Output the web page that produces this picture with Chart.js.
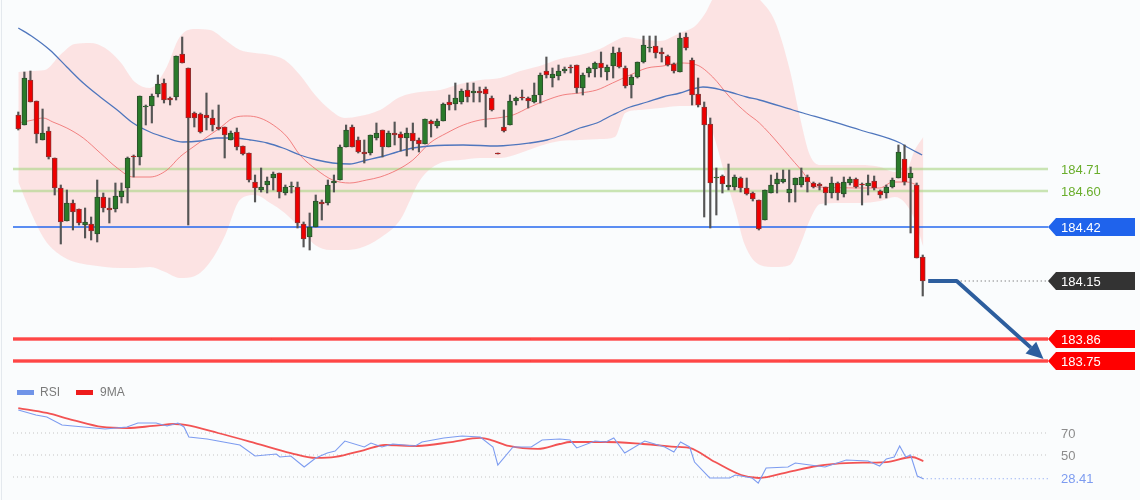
<!DOCTYPE html>
<html>
<head>
<meta charset="utf-8">
<script src="https://cdn.jsdelivr.net/npm/chart.js@4.4.0/dist/chart.umd.min.js"></script>
<style>
  html, body { margin: 0; padding: 0; background: #fafcfd; }
  #wrap { position: relative; width: 1140px; height: 500px; }
</style>
</head>
<body>
<div id="wrap"><canvas id="chart" width="1140" height="500"></canvas></div>
<script>
// candles, index 1..150
var candleOpen = [
  184.98,184.93,185.155,185.05,184.855,184.9,184.765,184.615,184.45,184.54,
  184.51,184.43,184.435,184.385,184.57,184.515,184.51,184.57,184.615,184.775,
  184.77,185.02,185.025,185.085,185.14,185.065,185.07,185.285,185.215,184.99,
  184.985,184.98,184.965,184.92,184.92,184.855,184.895,184.825,184.79,184.645,
  184.605,184.63,184.665,184.69,184.59,184.62,184.62,184.435,184.37,184.42,
  184.545,184.54,184.64,184.655,184.82,184.92,184.855,184.795,184.79,184.865,
  184.905,184.82,184.89,184.885,184.865,184.89,184.855,184.835,184.95,184.925,
  184.95,185.045,185.035,185.045,185.105,185.09,185.1,185.11,185.065,184.79,
  184.92,184.93,185.05,185.07,185.065,185.045,185.08,185.2,185.165,185.175,
  185.2,185.22,185.23,185.115,185.19,185.21,185.24,185.195,185.225,185.295,
  185.215,185.13,185.17,185.245,185.315,185.325,185.295,185.275,185.235,185.195,
  185.37,185.255,185.085,185.02,184.935,184.665,184.675,184.62,184.62,184.665,
  184.615,184.59,184.555,184.455,184.59,184.635,184.645,184.59,184.63,184.63,
  184.67,184.64,184.635,184.62,184.59,184.64,184.585,184.64,184.66,184.635,
  184.625,184.65,184.6,184.59,184.62,184.665,184.76,184.665,184.63,184.27
];
var candleHigh = [
  184.995,185.195,185.2,185.05,185.01,184.92,184.765,184.63,184.605,184.555,
  184.51,184.515,184.47,184.655,184.59,184.565,184.64,184.64,184.77,184.78,
  185.075,185.03,185.085,185.18,185.16,185.07,185.275,185.37,185.215,184.995,
  184.99,185.09,185.005,185.03,184.92,184.9,184.915,184.825,184.79,184.68,
  184.715,184.67,184.695,184.69,184.63,184.645,184.645,184.445,184.49,184.58,
  184.555,184.655,184.68,184.83,184.93,184.93,184.87,184.855,184.88,184.94,
  184.905,184.9,184.945,184.895,184.915,184.94,184.865,184.96,184.955,184.96,
  185.04,185.08,185.14,185.11,185.14,185.14,185.12,185.12,185.075,184.79,
  185.005,185.08,185.07,185.105,185.07,185.14,185.19,185.27,185.215,185.23,
  185.22,185.23,185.23,185.19,185.22,185.245,185.295,185.23,185.32,185.315,
  185.225,185.18,185.245,185.375,185.375,185.375,185.315,185.28,185.24,185.39,
  185.39,185.265,185.165,185.045,184.965,184.715,184.68,184.735,184.68,184.67,
  184.665,184.595,184.555,184.605,184.68,184.69,184.705,184.705,184.665,184.715,
  184.68,184.645,184.64,184.62,184.67,184.645,184.67,184.67,184.665,184.64,
  184.68,184.675,184.605,184.63,184.665,184.83,184.83,184.72,184.64,184.28
];
var candleLow = [
  184.905,184.93,185.045,184.84,184.855,184.76,184.58,184.335,184.45,184.405,
  184.43,184.365,184.355,184.345,184.495,184.44,184.495,184.54,184.54,184.67,
  184.73,184.93,184.94,185.07,185.04,185.03,185.055,185.24,184.43,184.92,
  184.89,184.905,184.9,184.905,184.765,184.855,184.805,184.78,184.645,184.545,
  184.595,184.59,184.605,184.565,184.58,184.59,184.415,184.32,184.305,184.42,
  184.455,184.53,184.595,184.655,184.82,184.82,184.79,184.74,184.78,184.855,
  184.77,184.82,184.83,184.8,184.775,184.805,184.795,184.835,184.87,184.915,
  184.95,185.005,185.005,185.035,185.045,185.045,185.045,184.92,185.0,184.785,
  184.895,184.93,185.03,185.055,185.015,185.04,185.04,185.165,185.12,185.155,
  185.19,185.19,185.09,185.08,185.17,185.17,185.17,185.155,185.165,185.215,
  185.115,185.065,185.165,185.24,185.295,185.265,185.245,185.225,185.19,185.195,
  185.305,185.03,185.02,184.47,184.415,184.48,184.59,184.605,184.605,184.595,
  184.58,184.55,184.405,184.455,184.59,184.59,184.64,184.545,184.545,184.62,
  184.595,184.615,184.605,184.53,184.565,184.555,184.57,184.63,184.615,184.53,
  184.58,184.605,184.565,184.565,184.615,184.665,184.63,184.39,184.265,184.075
];
var candleClose = [
  184.91,185.165,185.045,184.885,184.89,184.77,184.615,184.445,184.54,184.495,
  184.44,184.445,184.4,184.57,184.515,184.505,184.575,184.6,184.765,184.77,
  185.075,185.025,185.075,185.135,185.055,185.055,185.275,185.24,184.965,184.965,
  184.895,184.965,184.93,184.91,184.88,184.89,184.82,184.785,184.655,184.615,
  184.62,184.65,184.685,184.595,184.62,184.625,184.44,184.36,184.42,184.55,
  184.535,184.63,184.65,184.82,184.905,184.82,184.795,184.785,184.88,184.89,
  184.82,184.89,184.88,184.865,184.89,184.85,184.835,184.96,184.935,184.95,
  185.035,185.03,185.065,185.1,185.07,185.1,185.09,185.085,185.005,184.785,
  184.9,185.05,185.065,185.065,185.05,185.08,185.18,185.18,185.185,185.2,
  185.21,185.215,185.115,185.18,185.215,185.24,185.215,185.22,185.29,185.22,
  185.125,185.17,185.245,185.33,185.32,185.29,185.285,185.23,185.2,185.365,
  185.315,185.08,185.03,184.93,184.64,184.67,184.635,184.63,184.67,184.615,
  184.585,184.56,184.41,184.605,184.63,184.66,184.66,184.61,184.665,184.67,
  184.645,184.62,184.625,184.59,184.64,184.59,184.645,184.66,184.62,184.63,
  184.64,184.615,184.58,184.62,184.655,184.795,184.645,184.69,184.265,184.15
];

// bollinger band (read at candle positions)
var bandX = [1.0,2.9,5.4,7.9,10.3,12.8,15.3,17.8,20.2,22.7,25.2,27.6,30.1,32.6,35.1,37.5,40.0,42.5,44.9,47.4,
  49.9,52.4,54.8,57.3,60.6,63.9,67.2,70.5,73.8,77.1,80.4,83.7,86.9,90.2,93.5,96.8,99.3,101.0,103.4,106.7,
  110.0,112.5,114.1,115.8,117.4,119.1,120.7,123.2,125.7,128.1,129.8,131.4,133.1,136.4,139.7,143.0,145.4,147.1,148.7,150.1];
var bandUpper = [185.195,185.2,185.205,185.28,185.335,185.34,185.315,185.245,185.145,185.115,
  185.205,185.37,185.41,185.405,185.355,185.305,185.29,185.28,185.255,185.18,
  185.08,185.005,184.965,184.975,185.005,185.07,185.095,185.105,185.135,185.155,
  185.165,185.2,185.225,185.26,185.28,185.31,185.35,185.37,185.36,185.35,
  185.39,185.425,185.485,185.58,185.615,185.625,185.615,185.555,185.445,185.205,
  184.965,184.78,184.73,184.73,184.73,184.72,184.695,184.695,184.805,184.87];
var bandLower = [184.645,184.505,184.355,184.28,184.245,184.23,184.22,184.215,184.215,184.22,
  184.195,184.165,184.175,184.245,184.38,184.555,184.58,184.54,184.49,184.415,
  184.33,184.305,184.305,184.315,184.365,184.455,184.655,184.74,184.755,184.765,
  184.765,184.79,184.825,184.85,184.855,184.86,184.87,184.99,185.005,185.015,
  185.025,185.025,185.005,184.855,184.68,184.505,184.33,184.23,184.22,184.23,
  184.33,184.455,184.535,184.54,184.54,184.55,184.57,184.54,184.455,184.32];

// moving averages
var maBlueX = [1.0,3.4,6.2,9.0,11.7,14.5,17.3,19.9,22.7,25.5,28.1,30.9,33.7,36.4,39.2,42.0,44.6,47.4,50.2,52.8,
  55.6,58.4,60.6,63.4,66.0,68.8,74.3,79.9,85.3,88.1,90.7,93.5,96.3,98.9,101.8,104.6,107.2,110.0,112.1,113.8,
  115.4,118.2,121.0,123.1,128.6,130.3,139.7,146.3,147.4,149.9];
var maBlue = [185.415,185.37,185.305,185.22,185.14,185.07,185.005,184.94,184.895,184.865,
  184.845,184.85,184.865,184.865,184.855,184.84,184.815,184.78,184.755,184.74,
  184.735,184.755,184.77,184.795,184.815,184.825,184.83,184.825,184.84,184.855,
  184.88,184.915,184.94,184.98,185.02,185.045,185.07,185.09,185.11,185.12,
  185.115,185.095,185.07,185.055,185.005,184.99,184.905,184.84,184.82,184.78];
var maRedX = [1.0,3.4,5.1,6.7,9.0,11.7,14.5,17.3,19.9,22.7,25.5,27.6,29.8,32.1,34.2,36.4,38.7,40.8,43.0,45.3,
  47.4,50.2,52.8,55.6,58.4,60.6,63.4,66.0,68.8,71.6,74.3,77.1,79.9,82.5,85.3,88.1,90.7,93.5,96.3,98.9,
  101.8,104.6,107.2,110.0,112.8,115.4,118.2,121.0,123.1,129.7,132.6,142.9,145.1,147.4,149.1];
var maRed = [184.94,184.955,184.965,184.945,184.915,184.865,184.79,184.715,184.67,184.67,
  184.705,184.77,184.82,184.87,184.915,184.965,184.975,184.965,184.93,184.87,
  184.78,184.705,184.655,184.64,184.655,184.67,184.705,184.755,184.84,184.89,
  184.93,184.955,184.965,184.98,185.02,185.055,185.08,185.09,185.105,185.14,
  185.18,185.215,185.225,185.24,185.23,185.17,185.07,184.99,184.94,184.715,
  184.62,184.615,184.645,184.645,184.63];

// RSI panel
var rsiX = [1.0,3.9,5.7,8.2,11.8,15.3,18.9,20.7,23.7,25.5,27.3,28.3,29.1,32.1,33.9,37.5,40.0,43.5,44.1,45.9,
  48.1,50.0,51.9,53.2,54.8,58.0,59.1,60.9,62.7,66.4,67.5,71.1,74.1,77.1,79.2,80.0,82.5,85.5,87.3,90.2,
  91.9,93.0,96.0,97.8,99.1,100.9,104.2,107.5,109.0,110.1,111.6,112.4,114.9,118.2,119.1,121.9,122.9,124.2,127.8,129.0,
  133.9,137.4,141.0,142.9,144.0,145.3,146.2,147.2,148.0,149.1,150.1];
var rsi = [90.9,86.4,84.5,77.3,75.5,73.6,75.5,79.1,79.1,76.4,79.1,75.5,66.4,64.5,62.7,59.1,49.1,50.9,48.2,49.1,
  39.1,47.3,51.8,53.6,62.7,57.3,60.9,57.3,60.0,58.2,61.8,65.5,67.3,66.4,57.3,40.9,57.3,57.3,63.6,64.5,
  63.6,56.4,62.7,61.8,65.5,51.8,62.7,57.3,52.7,61.8,57.3,43.6,29.1,29.1,31.8,29.1,24.5,38.2,39.1,42.7,
  39.1,45.5,44.5,40.0,46.4,48.2,58.2,48.2,50.0,30.9,28.41];
var ma9X = [1.0,5.7,10.0,14.8,18.9,23.2,26.8,28.5,33.9,40.0,45.9,50.0,53.2,58.0,61.4,66.8,72.3,77.1,78.9,81.8,
  86.6,90.2,91.9,97.8,103.9,109.8,111.6,115.8,120.1,123.0,127.8,132.6,137.4,144.0,148.2,150.1];
var ma9 = [92.7,88.2,81.8,75.5,74.5,76.4,78.2,77.3,70.0,60.9,51.8,47.3,48.2,54.5,59.1,58.2,61.8,65.5,63.6,58.2,
  55.5,60.0,61.8,61.8,60.0,57.3,56.4,43.6,31.8,29.1,34.5,40.0,42.7,43.6,48.2,44.5];

var resistances = [184.71, 184.60];
var pivot = 184.42;
var lastPrice = 184.15;
var targets = [183.86, 183.75];
var rsiLevels = [70, 50, 30];
var rsiLast = 28.41;
var arrowPath = [[150.9, 184.15], [155.6, 184.15], [169.9, 183.76]];

function pts(xs, ys) {
  return xs.map(function(x, i) { return { x: x, y: ys[i] }; });
}

var idx = candleOpen.map(function(_, i) { return i + 1; });
var isUp = candleClose.map(function(c, i) { return c >= candleOpen[i]; });

var FONT = '"Liberation Sans", Arial, sans-serif';
var LX0 = 13, LX1 = 1048;

function hline(ctx, y, x0, x1, color, width, dash) {
  ctx.save();
  ctx.strokeStyle = color;
  ctx.lineWidth = width;
  ctx.setLineDash(dash || []);
  ctx.beginPath();
  ctx.moveTo(x0, y);
  ctx.lineTo(x1, y);
  ctx.stroke();
  ctx.restore();
}

function tag(ctx, y, color, text) {
  var h = 18;
  ctx.save();
  ctx.fillStyle = color;
  ctx.beginPath();
  ctx.moveTo(1048, y);
  ctx.lineTo(1056, y - h / 2);
  ctx.lineTo(1135, y - h / 2);
  ctx.lineTo(1135, y + h / 2);
  ctx.lineTo(1056, y + h / 2);
  ctx.closePath();
  ctx.fill();
  ctx.fillStyle = '#ffffff';
  ctx.font = '13px ' + FONT;
  ctx.textBaseline = 'middle';
  ctx.fillText(text, 1061, y + 1);
  ctx.restore();
}

function label(ctx, y, color, text) {
  ctx.save();
  ctx.fillStyle = color;
  ctx.font = '13px ' + FONT;
  ctx.textBaseline = 'middle';
  ctx.fillText(text, 1061, y + 1);
  ctx.restore();
}

var overlay = {
  id: 'overlay',
  afterDatasetDraw: function(chart, args) {
    if (args.index !== 0) return;
    var ctx = chart.ctx, sy = chart.scales.y, sr = chart.scales.yRsi, sx = chart.scales.x;
    ctx.save();
    ctx.strokeStyle = '#e4e9ee';
    ctx.beginPath(); ctx.moveTo(1.5, 0); ctx.lineTo(1.5, 500); ctx.stroke();
    ctx.restore();

    resistances.forEach(function(v) {
      hline(ctx, sy.getPixelForValue(v), LX0, LX1, 'rgba(175,215,140,0.65)', 2.5);
    });
    hline(ctx, sy.getPixelForValue(pivot), LX0, LX1, '#2468ee', 1.5);
    targets.forEach(function(v) {
      var y = sy.getPixelForValue(v);
      hline(ctx, y, LX0, LX1, '#ff0000', 3);
      hline(ctx, y, LX0, LX1, '#ffb0b0', 0.8);
    });
    var endX = sx.getPixelForValue(idx[idx.length - 1]);
    hline(ctx, sy.getPixelForValue(lastPrice), sx.getPixelForValue(arrowPath[1][0]), LX1, '#555', 1, [1, 3]);

    rsiLevels.forEach(function(v, i) {
      var x1 = i === 2 ? endX : LX1;
      hline(ctx, sr.getPixelForValue(v), LX0, x1, '#c4c4c4', 1, [1, 3]);
    });
    hline(ctx, sr.getPixelForValue(rsiLast), endX, LX1, '#7d9cf0', 1, [1, 3]);
  },
  afterDraw: function(chart) {
    var ctx = chart.ctx, sy = chart.scales.y, sr = chart.scales.yRsi, sx = chart.scales.x;
    label(ctx, sy.getPixelForValue(resistances[0]), '#6aae2c', resistances[0].toFixed(2));
    label(ctx, sy.getPixelForValue(resistances[1]), '#6aae2c', resistances[1].toFixed(2));
    tag(ctx, sy.getPixelForValue(pivot), '#1f63ec', pivot.toFixed(2));
    tag(ctx, sy.getPixelForValue(lastPrice), '#333333', lastPrice.toFixed(2));
    tag(ctx, sy.getPixelForValue(targets[0]), '#ff0000', targets[0].toFixed(2));
    tag(ctx, sy.getPixelForValue(targets[1]), '#ff0000', targets[1].toFixed(2));

    // arrow
    var p = arrowPath.map(function(a) { return [sx.getPixelForValue(a[0]), sy.getPixelForValue(a[1])]; });
    var tip = p[2], prev = p[1];
    var ang = Math.atan2(tip[1] - prev[1], tip[0] - prev[0]);
    var head = 17;
    var bx = tip[0] - Math.cos(ang) * head, by = tip[1] - Math.sin(ang) * head;
    ctx.save();
    ctx.strokeStyle = '#2d5e9e';
    ctx.fillStyle = '#2d5e9e';
    ctx.lineWidth = 4;
    ctx.lineJoin = 'round';
    ctx.beginPath();
    ctx.moveTo(p[0][0], p[0][1]);
    ctx.lineTo(p[1][0], p[1][1]);
    ctx.lineTo(bx, by);
    ctx.stroke();
    ctx.beginPath();
    ctx.moveTo(tip[0], tip[1]);
    ctx.lineTo(bx + Math.sin(ang) * 8, by - Math.cos(ang) * 8);
    ctx.lineTo(bx - Math.sin(ang) * 8, by + Math.cos(ang) * 8);
    ctx.closePath();
    ctx.fill();
    ctx.restore();

    // rsi labels
    label(ctx, sr.getPixelForValue(70), '#8c8c8c', '70');
    label(ctx, sr.getPixelForValue(50), '#8c8c8c', '50');
    label(ctx, sr.getPixelForValue(rsiLast), '#7d9cf0', rsiLast.toFixed(2));

    // legend
    ctx.save();
    ctx.font = '12px ' + FONT;
    ctx.textBaseline = 'middle';
    ctx.fillStyle = '#7094e8';
    ctx.fillRect(17, 390, 17, 5);
    ctx.fillStyle = '#ee1c1c';
    ctx.fillRect(76, 390, 17, 5);
    ctx.fillStyle = '#7a7a7a';
    ctx.fillText('RSI', 40, 393);
    ctx.fillText('9MA', 100, 393);
    ctx.restore();
  }
};

var ctx = document.getElementById('chart').getContext('2d');
new Chart(ctx, {
  type: 'bar',
  data: {
    datasets: [
      { type: 'line', data: pts(bandX, bandUpper), fill: '+1', backgroundColor: 'rgba(252,222,222,0.85)',
        borderWidth: 0, pointRadius: 0, cubicInterpolationMode: 'monotone', order: 9 },
      { type: 'line', data: pts(bandX, bandLower), fill: false, borderWidth: 0, pointRadius: 0,
        cubicInterpolationMode: 'monotone', order: 10 },
      { type: 'line', data: pts(maRedX, maRed), borderColor: 'rgba(240,110,110,0.85)', borderWidth: 1,
        pointRadius: 0, cubicInterpolationMode: 'monotone', order: 5 },
      { type: 'line', data: pts(maBlueX, maBlue), borderColor: '#4f76bd', borderWidth: 1.3,
        pointRadius: 0, cubicInterpolationMode: 'monotone', order: 4 },
      { data: idx.map(function(x, i) { return { x: x, y: [candleLow[i], candleHigh[i]] }; }),
        backgroundColor: '#555555', barThickness: 1.5, grouped: false, order: 3 },
      { data: idx.map(function(x, i) { return { x: x, y: [candleOpen[i], candleClose[i]] }; }),
        backgroundColor: isUp.map(function(u) { return u ? '#2a7a2a' : '#ee0000'; }),
        borderColor: isUp.map(function(u) { return u ? '#2c4f2c' : '#8a3434'; }),
        borderWidth: 1, borderSkipped: false, barThickness: 5, grouped: false, order: 2 },
      { type: 'line', yAxisID: 'yRsi', data: pts(ma9X, ma9), borderColor: 'rgba(240,40,40,0.8)', borderWidth: 1.8,
        pointRadius: 0, cubicInterpolationMode: 'monotone', order: 1 },
      { type: 'line', yAxisID: 'yRsi', data: pts(rsiX, rsi), borderColor: '#7d9cf0', borderWidth: 1.1,
        pointRadius: 0, tension: 0, order: 0 }
    ]
  },
  options: {
    responsive: false,
    animation: false,
    layout: { padding: 0 },
    plugins: { legend: { display: false }, tooltip: { enabled: false } },
    scales: {
      x: { type: 'linear', min: -2.015, max: 185.794, display: false, offset: false },
      y: { type: 'linear', axis: 'y', min: 183.055, max: 185.555, display: false },
      yRsi: { type: 'linear', axis: 'y', min: 9.0909, max: 463.636, display: false }
    }
  },
  plugins: [overlay]
});
</script>
</body>
</html>
